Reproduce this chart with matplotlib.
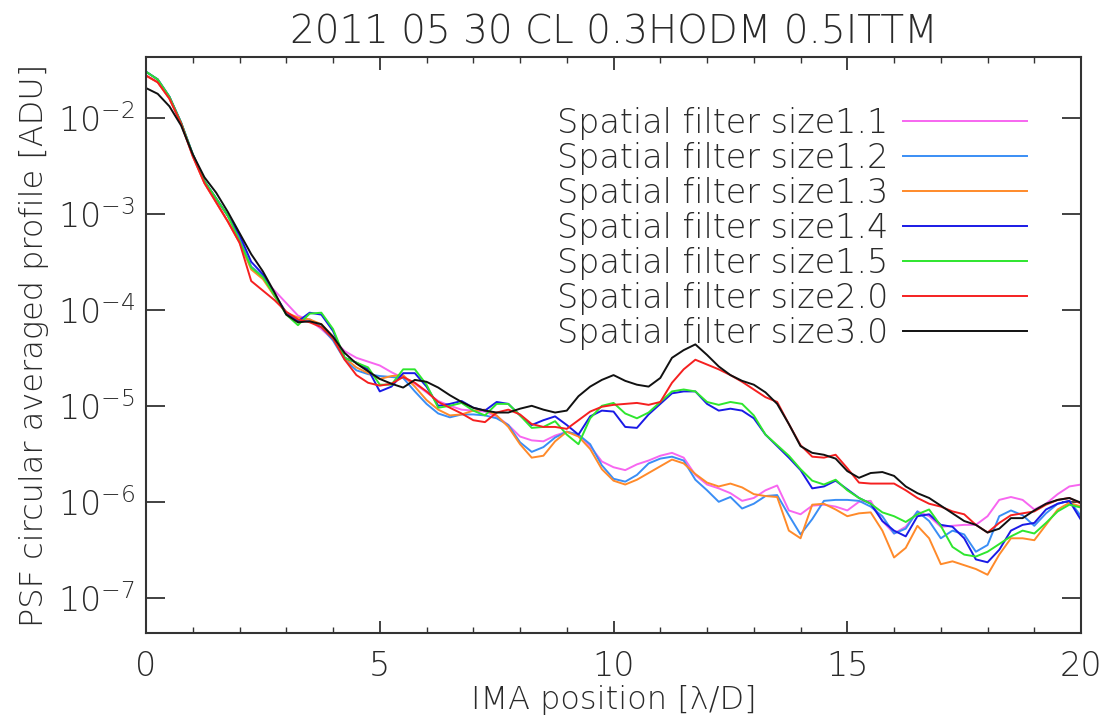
import numpy as np
import matplotlib
matplotlib.use("Agg")
import matplotlib.pyplot as plt

# IMA position in lambda/D (0 to 20, step 0.25)
x = np.arange(0, 20.001, 0.25)

# log10 of the circular averaged PSF profile [ADU]
early_col = [-1.52, -1.60, -1.78, -2.05, -2.38, -2.66, -2.84, -3.02]
early_pnk = [-1.56, -1.63, -1.80, -2.06, -2.40, -2.68, -2.88, -3.08]
early_blk = [-1.69, -1.75, -1.88, -2.08, -2.38, -2.62, -2.78, -2.98]

size11 = early_pnk + [
    -3.30, -3.55, -3.67, -3.80, -3.93, -4.06, -4.11, -4.20, -4.31, -4.43, -4.50, -4.54,
    -4.58, -4.65, -4.71, -4.77, -4.86, -4.95, -5.00, -5.04, -5.05, -5.06, -5.11, -5.20,
    -5.32, -5.36, -5.37, -5.31, -5.27, -5.30, -5.42, -5.58, -5.64, -5.67, -5.61, -5.57,
    -5.52, -5.49, -5.54, -5.72, -5.82, -5.86, -5.91, -5.99, -5.96, -5.88, -5.83, -6.09,
    -6.13, -6.04, -6.03, -6.05, -6.09, -6.00, -5.99, -6.20, -6.33, -6.26, -6.10, -6.15,
    -6.26, -6.25, -6.24, -6.24, -6.15, -5.98, -5.95, -5.98, -6.08, -6.02, -5.92, -5.84,
    -5.82]
size12 = early_col + [
    -3.26, -3.55, -3.65, -3.86, -4.04, -4.12, -4.10, -4.18, -4.32, -4.52, -4.63, -4.67,
    -4.69, -4.70, -4.71, -4.85, -4.98, -5.08, -5.12, -5.09, -5.09, -5.10, -5.13, -5.20,
    -5.38, -5.48, -5.43, -5.33, -5.27, -5.30, -5.40, -5.62, -5.76, -5.79, -5.72, -5.60,
    -5.55, -5.53, -5.57, -5.77, -5.88, -6.00, -5.95, -6.07, -6.02, -5.94, -5.93, -6.14,
    -6.34, -6.18, -5.99, -5.98, -5.98, -5.99, -6.05, -6.15, -6.33, -6.28, -6.10, -6.20,
    -6.38, -6.30, -6.34, -6.52, -6.45, -6.15, -6.09, -6.14, -6.25, -6.12, -6.02, -5.99,
    -6.15]
size13 = early_pnk + [
    -3.30, -3.58, -3.68, -3.86, -4.03, -4.08, -4.10, -4.15, -4.28, -4.50, -4.60, -4.66,
    -4.72, -4.69, -4.68, -4.80, -4.94, -5.04, -5.10, -5.09, -5.05, -5.04, -5.10, -5.22,
    -5.40, -5.54, -5.52, -5.37, -5.27, -5.32, -5.45, -5.66, -5.78, -5.82, -5.77, -5.70,
    -5.63, -5.56, -5.60, -5.71, -5.80, -5.84, -5.81, -5.85, -5.92, -5.94, -5.95, -6.30,
    -6.38, -6.03, -6.02, -6.08, -6.15, -6.12, -6.11, -6.30, -6.58, -6.48, -6.25, -6.38,
    -6.65, -6.62, -6.66, -6.70, -6.76, -6.55, -6.38, -6.38, -6.40, -6.24, -6.08, -6.01,
    -6.05]
size14 = early_col + [
    -3.22, -3.50, -3.63, -3.84, -4.03, -4.12, -4.03, -4.05, -4.22, -4.50, -4.55, -4.62,
    -4.85, -4.80, -4.66, -4.66, -4.80, -5.00, -4.98, -4.95, -5.02, -5.05, -4.96, -4.98,
    -5.10, -5.20, -5.15, -5.11, -5.20, -5.30, -5.11, -5.05, -5.06, -5.22, -5.23, -5.09,
    -4.98, -4.87, -4.85, -4.85, -4.98, -5.05, -5.03, -5.05, -5.13, -5.30, -5.42, -5.54,
    -5.67, -5.86, -5.84, -5.78, -5.87, -5.96, -6.02, -6.20, -6.30, -6.36, -6.15, -6.13,
    -6.24, -6.26, -6.38, -6.60, -6.63, -6.50, -6.30, -6.24, -6.22, -6.08, -6.02, -5.99,
    -6.19]
size15 = early_col + [
    -3.28, -3.56, -3.66, -3.85, -4.05, -4.16, -4.04, -4.03, -4.20, -4.50, -4.55, -4.60,
    -4.78, -4.78, -4.62, -4.62, -4.78, -5.02, -5.00, -4.97, -5.05, -5.10, -4.98, -4.98,
    -5.10, -5.23, -5.22, -5.16, -5.30, -5.40, -5.13, -5.00, -4.97, -5.08, -5.13, -5.07,
    -4.96, -4.85, -4.83, -4.85, -4.96, -4.99, -4.96, -4.98, -5.10, -5.30, -5.41, -5.52,
    -5.66, -5.78, -5.82, -5.77, -5.88, -5.96, -6.02, -6.11, -6.15, -6.21, -6.13, -6.08,
    -6.25, -6.47, -6.55, -6.57, -6.52, -6.44, -6.36, -6.30, -6.33, -6.22, -6.10, -6.03,
    -6.06]
size20 = early_pnk + [
    -3.30, -3.70, -3.80, -3.90, -4.02, -4.10, -4.13, -4.18, -4.30, -4.52, -4.68, -4.76,
    -4.79, -4.77, -4.70, -4.76, -4.85, -4.96, -5.02, -5.08, -5.15, -5.17, -5.07, -5.04,
    -5.09, -5.19, -5.22, -5.22, -5.24, -5.15, -5.06, -5.01, -4.99, -4.98, -4.97, -4.99,
    -4.96, -4.76, -4.62, -4.52, -4.57, -4.62, -4.68, -4.75, -4.83, -4.91, -4.96, -5.19,
    -5.41, -5.53, -5.54, -5.51, -5.65, -5.80, -5.81, -5.81, -5.81, -5.88, -5.96, -6.02,
    -6.05, -6.10, -6.13, -6.24, -6.32, -6.22, -6.14, -6.12, -6.10, -6.03, -5.98, -5.96,
    -6.02]
size30 = early_blk + [
    -3.20, -3.42, -3.60, -3.82, -4.05, -4.13, -4.12, -4.15, -4.28, -4.45, -4.56, -4.64,
    -4.72, -4.77, -4.81, -4.73, -4.75, -4.81, -4.89, -4.96, -5.02, -5.05, -5.07, -5.07,
    -5.03, -5.00, -5.04, -5.07, -5.05, -4.90, -4.80, -4.73, -4.68, -4.74, -4.78, -4.80,
    -4.71, -4.50, -4.42, -4.36, -4.47, -4.59, -4.68, -4.74, -4.78, -4.86, -4.98, -5.19,
    -5.42, -5.49, -5.51, -5.55, -5.68, -5.75, -5.70, -5.69, -5.73, -5.84, -5.91, -5.96,
    -6.04, -6.12, -6.20, -6.24, -6.32, -6.28, -6.17, -6.17, -6.09, -6.02, -5.98, -5.96,
    -6.01]

labels = ['Spatial filter size1.1', 'Spatial filter size1.2', 'Spatial filter size1.3',
          'Spatial filter size1.4', 'Spatial filter size1.5', 'Spatial filter size2.0',
          'Spatial filter size3.0']
colors = ['#f766f0', '#3a8ef5', '#ff8a2a', '#1a1ae6', '#2ee62e', '#f52020', '#111111']
series = [size11, size12, size13, size14, size15, size20, size30]

plt.rcParams['font.family'] = 'DejaVu Sans'
plt.rcParams['font.weight'] = 'light'
plt.rcParams['axes.titleweight'] = 'light'
plt.rcParams['axes.labelweight'] = 'light'
plt.rcParams['mathtext.default'] = 'regular'
txt = '#2a2a2a'

fig = plt.figure(figsize=(11.02, 7.27), dpi=100)
ax = fig.add_axes([0.1325, 0.1293, 0.8485, 0.7923])

for s, c, lab in zip(series, colors, labels):
    ax.plot(x, np.power(10.0, s), color=c, lw=1.4, label=lab)

ax.set_yscale('log')
ax.set_xlim(0, 20)
ax.set_ylim(4.3e-8, 4.3e-2)
ax.set_xticks([0, 5, 10, 15, 20])
ax.set_xticks(np.arange(0, 21, 1), minor=True)
ax.set_yticks([1e-7, 1e-6, 1e-5, 1e-4, 1e-3, 1e-2])
ax.yaxis.set_minor_locator(matplotlib.ticker.NullLocator())

ax.tick_params(axis='both', which='both', direction='in', top=True, right=True,
               colors='#333333', labelcolor=txt, labelsize=24)
ax.tick_params(axis='x', which='major', length=9, width=1.3, pad=12)
ax.tick_params(axis='x', which='minor', length=4.5, width=1.0)
ax.tick_params(axis='y', which='major', length=14, width=1.3, pad=8)
for sp in ax.spines.values():
    sp.set_color('#333333')
    sp.set_linewidth(1.5)

ax.set_title('2011 05 30 CL 0.3HODM 0.5ITTM', fontsize=28, color=txt, pad=10,
             fontweight='light')
ax.set_xlabel('IMA position [λ/D]', fontsize=23, color=txt, labelpad=2,
              fontweight='light')
ax.set_ylabel('PSF circular averaged profile [ADU]', fontsize=23, color=txt, labelpad=6,
              fontweight='light')

leg = ax.legend(loc='upper right', bbox_to_anchor=(0.974, 0.965), frameon=False,
                markerfirst=False, fontsize=24, handlelength=3.7, handletextpad=0.45,
                labelspacing=0.06)
for t in leg.get_texts():
    t.set_color(txt)

fig.savefig('out.png', dpi=100)
